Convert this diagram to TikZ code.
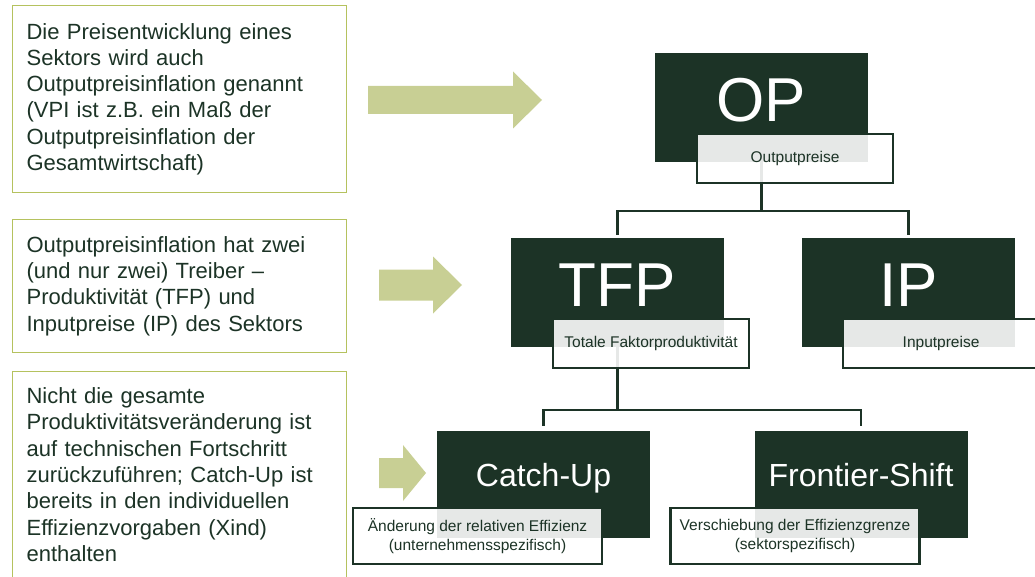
\documentclass[tikz,border=0pt]{standalone}
\usepackage{fontspec}
\setmainfont{Liberation Sans}
\usetikzlibrary{positioning, calc, backgrounds}
\definecolor{boxgreen}{HTML}{1C3326}
\definecolor{frameolive}{HTML}{B5C25E}
\definecolor{arrowfill}{HTML}{C8CF94}
\tikzset{
  note/.style={draw=frameolive, line width=1.2pt, fill=white, text=boxgreen, anchor=north west,
               align=left, text width=306pt, inner xsep=14pt, inner ysep=16pt,
               font=\fontsize{22}{26.3}\selectfont},
  head/.style={fill=boxgreen, text=white, minimum width=213pt, minimum height=109pt,
               inner sep=0pt, font=\fontsize{62}{62}\selectfont, text depth=15pt},
  sub/.style={fill=boxgreen, text=white, minimum width=213pt, minimum height=107pt,
              inner sep=0pt, font=\fontsize{32}{32}\selectfont, text depth=19pt},
  tag/.style={draw=boxgreen, line width=2.5pt, fill=white, fill opacity=0.89, text opacity=1,
              text=boxgreen, anchor=north west, minimum width=196pt, minimum height=49pt,
              inner sep=0pt, align=center, font=\fontsize{15.5}{19}\selectfont},
  tagwide/.style={tag, minimum width=249pt, minimum height=56pt},
  link/.style={draw=boxgreen, line width=2.5pt},
}

\begin{document}
\begin{tikzpicture}[x=1pt, y=-1pt]
  \useasboundingbox (0,0) rectangle (1035,577);
  \clip (0,0) rectangle (1035,577);

  \node[note, minimum height=187pt] (n1) at (12,5) {Die Preisentwicklung eines\\Sektors wird auch\\Outputpreisinflation genannt\\(VPI ist z.B. ein Maß der\\Outputpreisinflation der\\Gesamtwirtschaft)};
  \node[note, minimum height=133pt] (n2) at (12,219) {Outputpreisinflation hat zwei\\(und nur zwei) Treiber --\\Produktivität (TFP) und\\Inputpreise (IP) des Sektors};
  \node[note] (n3) at (12,371) {Nicht die gesamte\\Produktivitätsveränderung ist\\auf technischen Fortschritt\\zurückzuführen; Catch-Up ist\\bereits in den individuellen\\Effizienzvorgaben (Xind)\\enthalten};

  \foreach \tx/\hx/\px/\cy/\sw/\hw in {368/513/542/100/14/28.5, 379/433/462/285/15.5/28.5, 379/403/426/473/15/28}
    \fill[arrowfill] (\tx,\cy-\sw) -- (\hx,\cy-\sw) -- (\hx,\cy-\hw) -- (\px,\cy)
      -- (\hx,\cy+\hw) -- (\hx,\cy+\sw) -- (\tx,\cy+\sw) -- cycle;

  \node[head] (op) at (761.5,107.5) {OP};
  \node[head] (tfp) at (617.5,292.5) {TFP};
  \node[head] (ip) at (908.5,292.5) {IP};
  \node[sub] (cu) at (543.5,484.5) {Catch-Up};
  \node[sub] (fs) at (861,484.5) {Frontier-Shift};

  \node[tag] (optag) at ([shift={(41,80)}]op.north west) {Outputpreise};
  \node[tag] (tfptag) at ([shift={(41,80)}]tfp.north west) {Totale Faktorproduktivität};
  \node[tag] (iptag) at ([shift={(40,80)}]ip.north west) {Inputpreise};
  \node[tagwide] (cutag) at ([shift={(-85,76)}]cu.north west) {Änderung der relativen Effizienz\\(unternehmensspezifisch)};
  \node[tagwide] (fstag) at ([shift={(-85,76)}]fs.north west) {Verschiebung der Effizienzgrenze\\(sektorspezifisch)};

  \begin{scope}[on background layer]
    \path (op.center) ++(0,103.5) coordinate (opbus);
    \path (tfp.center) ++(0,117.5) coordinate (tfpbus);
    \draw[link, shorten >=3pt] (op.center) -- (opbus) -| (tfp.north);
    \draw[link, shorten >=3pt] (opbus) -| (ip.north);
    \draw[link, shorten >=5pt] (tfp.center) -- (tfpbus) -| (cu.north);
    \draw[link, shorten >=5pt] (tfpbus) -| (fs.north);
  \end{scope}
\end{tikzpicture}
\end{document}
